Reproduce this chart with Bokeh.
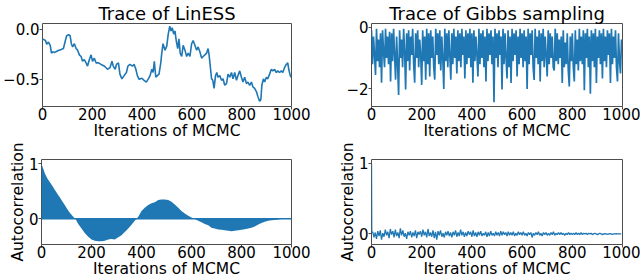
from bokeh.plotting import figure
from bokeh.layouts import column, row
from bokeh.models import FixedTicker, CustomJSTickFormatter, Range1d, Span
from bokeh.embed import file_html
from bokeh.resources import INLINE

# ---------------- data ----------------
x_ticks = [0, 200, 400, 600, 800, 1000]

lin_iter = [0, 12, 17, 24, 31, 36, 41, 48, 61, 75, 84, 92, 97, 105, 111, 116, 121, 128, 135, 141,
            148, 155, 161, 168, 175, 181, 188, 195, 201, 208, 215, 225, 235, 248, 261, 271, 279, 284, 292, 297,
            305, 311, 319, 328, 337, 343, 351, 361, 368, 375, 381, 388, 399, 408, 417, 425, 432, 439, 444, 449,
            455, 461, 468, 475, 479, 484, 492, 499, 505, 511, 516, 521, 527, 532, 537, 543, 548, 553, 559, 565,
            572, 579, 585, 592, 599, 605, 612, 619, 625, 632, 639, 645, 652, 659, 665, 669, 675, 679, 684, 689,
            695, 700, 705, 712, 719, 725, 732, 739, 745, 752, 759, 765, 772, 779, 785, 792, 799, 805, 812, 819,
            825, 832, 839, 845, 852, 859, 865, 872, 877, 881, 887, 892, 899, 905, 912, 919, 925, 932, 939, 945,
            952, 959, 965, 972, 979, 985, 989, 995, 999]
lin_trace = [-0.098, -0.114, -0.152, -0.13, -0.162, -0.24, -0.225, -0.235, -0.216, -0.203,
             -0.194, -0.114, -0.067, -0.057, -0.067, -0.146, -0.178, -0.146, -0.194, -0.21,
             -0.257, -0.273, -0.32, -0.305, -0.336, -0.368, -0.305, -0.257, -0.32, -0.29,
             -0.336, -0.336, -0.352, -0.368, -0.4, -0.384, -0.32, -0.368, -0.4, -0.352,
             -0.336, -0.448, -0.495, -0.463, -0.432, -0.368, -0.352, -0.368, -0.352, -0.4,
             -0.463, -0.5, -0.489, -0.51, -0.527, -0.495, -0.463, -0.4, -0.432, -0.32,
             -0.479, -0.463, -0.448, -0.336, -0.24, -0.146, -0.21, -0.17, -0.051, 0.029,
             -0.019, 0.013, -0.051, -0.019, -0.114, -0.194, -0.098, -0.24, -0.273, -0.162,
             -0.21, -0.273, -0.24, -0.273, -0.146, -0.114, -0.162, -0.21, -0.178, -0.226,
             -0.289, -0.273, -0.257, -0.24, -0.194, -0.257, -0.4, -0.495, -0.51, -0.59,
             -0.463, -0.432, -0.479, -0.463, -0.51, -0.495, -0.559, -0.543, -0.448, -0.479,
             -0.432, -0.495, -0.432, -0.51, -0.463, -0.416, -0.479, -0.527, -0.479, -0.543,
             -0.527, -0.559, -0.527, -0.575, -0.59, -0.622, -0.67, -0.717, -0.701, -0.559,
             -0.495, -0.527, -0.479, -0.495, -0.448, -0.4, -0.416, -0.4, -0.432, -0.416,
             -0.432, -0.416, -0.432, -0.384, -0.352, -0.336, -0.4, -0.463, -0.479]

gibbs_iter = list(range(0, 1000, 4))
gibbs_trace = [
    -0.1, -1.2, -0.3, -0.9, -1.55, -0.05, -1.1, -0.4, -1.3, -0.2,
    -1.8, -0.1, -0.8, -1.3, -0.05, -1.0, -0.3, -1.2, -0.15, -1.76,
    -0.2, -1.1, -0.05, -0.9, -1.7, -0.3, -1.2, -2.2, -0.1, -1.0,
    -0.4, -1.3, -0.05, -0.8, -2.02, -0.2, -1.1, -0.1, -1.4, -0.3,
    -0.9, -0.05, -1.2, -1.8, -0.2, -1.0, -0.1, -1.3, -0.4, -0.9,
    -1.87, -0.1, -1.1, -0.3, -1.7, -0.05, -1.2, -0.2, -1.6, -0.1,
    -1.0, -0.3, -1.3, -1.7, -0.05, -0.9, -0.2, -1.2, -0.1, -1.4,
    -0.3, -1.0, -2.0, -0.05, -1.1, -0.2, -1.3, -0.1, -0.9, -1.7,
    -0.2, -1.2, -0.05, -1.0, -0.3, -1.5, -0.1, -1.1, -0.2, -1.3,
    -0.05, -0.9, -0.3, -1.66, -0.1, -1.2, -0.2, -1.0, -0.05, -1.3,
    -0.2, -1.8, -0.1, -1.1, -0.3, -0.9, -1.6, -0.05, -1.2, -0.2,
    -1.0, -0.1, -1.3, -0.3, -1.76, -0.05, -1.1, -0.2, -0.9, -0.1,
    -1.2, -0.3, -2.43, -0.05, -1.0, -0.2, -1.3, -0.1, -0.9, -0.3,
    -2.02, -0.05, -1.2, -0.2, -1.0, -1.66, -0.1, -1.3, -0.3, -1.81,
    -0.05, -1.1, -0.2, -0.9, -0.1, -1.6, -0.3, -1.2, -0.05, -1.0,
    -0.2, -1.3, -0.1, -1.1, -0.3, -2.0, -0.05, -1.2, -0.2, -0.9,
    -0.1, -1.3, -1.71, -0.05, -1.0, -0.3, -1.2, -0.1, -1.76, -0.2,
    -1.1, -0.05, -1.3, -0.3, -0.9, -1.6, -0.1, -1.2, -0.2, -1.0,
    -0.3, -1.3, -1.4, -0.05, -1.1, -0.2, -1.2, -0.4, -1.0, -0.3,
    -1.81, -0.1, -1.3, -0.5, -1.2, -0.2, -1.4, -1.92, -0.3, -1.1,
    -0.2, -1.3, -1.76, -0.1, -1.2, -0.4, -1.4, -0.05, -1.1, -0.3,
    -1.2, -0.1, -2.04, -0.2, -1.0, -0.05, -1.3, -0.3, -2.16, -0.1,
    -1.1, -0.2, -1.3, -0.05, -1.81, -0.3, -1.0, -0.1, -1.2, -0.2,
    -1.66, -0.05, -1.1, -0.3, -1.3, -0.1, -0.9, -0.2, -1.81, -0.05,
    -1.2, -0.3, -1.0, -0.1, -1.3, -1.76, -0.2, -1.1, -1.5, -0.4]

acf_lin_lag = [0, 7, 14, 24, 33, 43, 53, 64, 73, 83, 93, 104, 113, 127, 136, 147, 160, 173, 187, 200,
               213, 227, 240, 253, 267, 280, 293, 307, 320, 333, 347, 360, 373, 387, 400, 413, 427, 440, 453, 467,
               480, 493, 507, 520, 533, 547, 560, 573, 587, 600, 613, 627, 640, 653, 667, 680, 693, 707, 720, 733,
               747, 760, 773, 787, 800, 813, 827, 840, 853, 867, 880, 893, 907, 920, 933, 947, 960, 973, 988, 999]
acf_lin = [1.0, 0.91, 0.82, 0.73, 0.67, 0.60, 0.53, 0.45, 0.39, 0.32,
           0.25, 0.17, 0.11, 0.035, -0.006, -0.095, -0.18, -0.26, -0.33, -0.38,
           -0.40, -0.41, -0.41, -0.40, -0.38, -0.37, -0.38, -0.34, -0.30, -0.24,
           -0.18, -0.11, -0.035, 0.035, 0.14, 0.20, 0.25, 0.28, 0.30, 0.34,
           0.35, 0.35, 0.34, 0.31, 0.26, 0.20, 0.14, 0.095, 0.053, 0.024,
           -0.006, -0.035, -0.065, -0.095, -0.12, -0.165, -0.18, -0.195, -0.20, -0.21,
           -0.22, -0.23, -0.22, -0.21, -0.20, -0.19, -0.18, -0.165, -0.14, -0.105,
           -0.077, -0.053, -0.035, -0.03, -0.024, -0.012, -0.006, 0.0, 0.0, 0.0]

acf_gibbs_lag = [0, 1] + list(range(5, 1000, 5))
acf_gibbs = [1.0, 0.02,
    0.03, -0.05, 0.02, -0.07, 0.04, -0.03, 0.05, -0.08, 0.01, -0.04,
    0.06, -0.02, 0.03, -0.06, 0.07, -0.01, 0.04, -0.05, 0.06, -0.03,
    0.02, -0.06, 0.08, -0.02, 0.05, -0.04, 0.01, -0.07, 0.03, -0.02,
    0.04, -0.05, 0.02, -0.03, 0.05, -0.06, 0.03, -0.01, 0.04, -0.04,
    0.06, -0.02, 0.03, -0.05, 0.07, -0.03, 0.02, -0.04, 0.05, -0.06,
    0.03, -0.08, 0.04, -0.02, 0.05, -0.04, 0.01, -0.05, 0.03, -0.02,
    0.04, -0.03, 0.02, -0.05, 0.03, -0.02, 0.05, -0.04, 0.02, -0.03,
    0.06, -0.02, 0.03, -0.04, 0.02, -0.03, 0.04, -0.01, 0.03, -0.04,
    0.05, -0.03, 0.02, -0.04, 0.03, -0.02, 0.04, -0.03, 0.01, -0.02,
    0.03, -0.04, 0.02, -0.03, 0.04, -0.02, 0.01, -0.03, 0.03, -0.02,
    0.02, -0.03, 0.04, -0.02, 0.03, -0.01, 0.02, -0.03, 0.03, -0.02,
    0.02, -0.02, 0.03, -0.03, 0.01, -0.02, 0.03, -0.01, 0.02, -0.02,
    0.03, -0.02, 0.01, -0.03, 0.02, -0.01, 0.02, -0.05, 0.01, -0.02,
    0.02, -0.01, 0.03, -0.02, 0.01, -0.03, 0.02, -0.01, 0.02, -0.02,
    0.01, -0.02, 0.02, -0.01, 0.03, -0.02, 0.01, -0.01, 0.02, -0.01,
    0.02, -0.01, 0.01, -0.02, 0.01, -0.01, 0.02, -0.01, 0.01, -0.01,
    0.01, -0.01, 0.02, -0.01, 0.01, -0.01, 0.02, -0.01, 0.01, 0.0,
    0.01, -0.01, 0.01, 0.0, 0.01, -0.01, 0.0, 0.01, 0.0, -0.01,
    0.0, 0.01, 0.0, -0.01, 0.0, 0.005, 0.0, -0.005, 0.0, 0.005,
    0.0, -0.005, 0.0, 0.0, 0.005, 0.0, 0.0, 0.0, 0.0]

titles = ["Trace of LinESS", "Trace of Gibbs sampling"]
x_label = "Iterations of MCMC"
y_label = "Autocorrelation"

# ---------------- styling ----------------
BLUE = "#1f77b4"
FRAME = "#4d4d4d"
FONT = "DejaVu Sans"
TICK_PX = "15px"
LABEL_PX = "15.5px"

fmt1 = CustomJSTickFormatter(code="return tick < 0 ? '\u2212' + (-tick).toFixed(1) : tick.toFixed(1);")
fmt0 = CustomJSTickFormatter(code="return tick < 0 ? '\u2212' + (-tick).toFixed(0) : tick.toFixed(0);")


def make(width, height, yr, yticks, yfmt, title=None, ylabel=None, bl=0, br=0, bt=0):
    p = figure(width=width, height=height, output_backend="svg", toolbar_location=None,
               x_range=Range1d(0, 1000), y_range=Range1d(*yr),
               min_border_left=bl, min_border_right=br, min_border_top=bt, min_border_bottom=0)
    p.background_fill_color = "white"
    p.border_fill_color = "white"
    p.grid.visible = False
    p.outline_line_color = FRAME
    p.outline_line_width = 1
    if title:
        p.title.text = title
        p.title.text_font = FONT
        p.title.text_font_size = "18px"
        p.title.text_font_style = "normal"
        p.title.text_color = "black"
        p.title.text_line_height = 0.85
        p.title.align = "center"
        p.title.standoff = 0
        p.title.offset = 0
    for ax in (p.xaxis[0], p.yaxis[0]):
        ax.axis_line_color = None
        ax.major_tick_line_color = FRAME
        ax.major_tick_out = 3
        ax.major_tick_in = 0
        ax.minor_tick_line_color = None
        ax.major_label_text_font = FONT
        ax.major_label_text_font_size = TICK_PX
        ax.major_label_text_color = "black"
        ax.major_label_standoff = 0
        ax.axis_label_text_font = FONT
        ax.axis_label_text_font_size = LABEL_PX
        ax.axis_label_text_font_style = "normal"
        ax.axis_label_text_color = "black"
    p.xaxis[0].ticker = FixedTicker(ticks=x_ticks)
    p.xaxis[0].axis_label = x_label
    p.xaxis[0].major_label_standoff = -2
    p.xaxis[0].axis_label_standoff = -1
    p.yaxis[0].ticker = FixedTicker(ticks=yticks)
    p.yaxis[0].formatter = yfmt
    if ylabel:
        p.yaxis[0].axis_label = ylabel
        p.yaxis[0].axis_label_standoff = -1
    return p


WL, WR = 330, 310
HT, HB = 142, 138

p1 = make(WL, HT, (-0.77, 0.055), [-0.5, 0.0], fmt1, title=titles[0], bl=41, br=39)
p1.line(lin_iter, lin_trace, line_color=BLUE, line_width=1.6)

p2 = make(WR, HT, (-2.57, 0.12), [-2, 0], fmt0, title=titles[1], bl=41, br=18)
p2.line(gibbs_iter, gibbs_trace, line_color=BLUE, line_width=1.7)

p3 = make(WL, HB, (-0.47, 1.08), [0, 1], fmt0, ylabel=y_label, bl=41, br=39, bt=17)
p3.varea(x=acf_lin_lag, y1=[0.0] * len(acf_lin_lag), y2=acf_lin, fill_color=BLUE)
p3.add_layout(Span(location=0, dimension="width", line_color=BLUE, line_width=1.5))

p4 = make(WR, HB, (-0.15, 1.055), [0, 1], fmt0, ylabel=y_label, bl=41, br=18, bt=17)
p4.line(acf_gibbs_lag, acf_gibbs, line_color=BLUE, line_width=1.3)

p = column(row(p1, p2, spacing=0), row(p3, p4, spacing=0), spacing=0)

open("out.html", "w").write(file_html(p, INLINE))
